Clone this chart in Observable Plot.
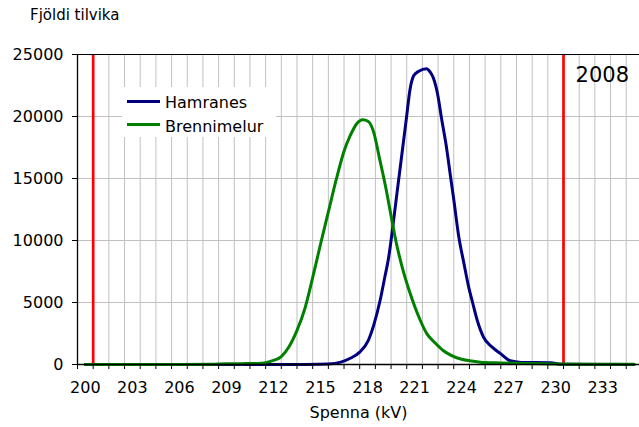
<!DOCTYPE html>
<html>
<head>
<meta charset="utf-8">
<script src="https://cdn.jsdelivr.net/npm/d3@7"></script>
<script src="https://cdn.jsdelivr.net/npm/@observablehq/plot@0.6"></script>
<style>
  html, body { margin: 0; padding: 0; background: #fff; }
  #wrap { position: relative; width: 639px; height: 427px; overflow: hidden; font-family: "DejaVu Sans", Verdana, sans-serif; color: #000; }
  #wrap svg { position: absolute; left: 0; top: 0; overflow: visible; }
  .lbl { position: absolute; line-height: 1; white-space: nowrap; }
  #legend { position: absolute; left: 122px; top: 87px; width: 154px; height: 50px; background: #fff; }
  .sw { position: absolute; left: 5px; width: 33px; height: 3px; }
  .lt { position: absolute; left: 43px; font-size: 16px; line-height: 1; white-space: nowrap; }
</style>
</head>
<body>
<div id="wrap"></div>
<script>
// ---- data ----
const seriesNames = ["Hamranes", "Brennimelur"];
const seriesColors = ["#000080", "#008000"];

const hamranesKv = [200, 212, 214, 215.5, 216.3, 216.9, 217.5, 218.05, 218.4, 218.8, 219.1, 219.33, 219.5, 219.67, 220, 220.3, 220.5, 220.7, 220.95, 221.27, 221.76, 222, 222.2, 222.5, 222.7, 223, 223.3, 223.5, 223.82, 224.14, 224.46, 224.7, 225, 225.4, 225.95, 226.5, 227.1, 227.8, 229.7, 230.3, 235];
const hamranesCount = [0, 0, 10, 40, 190, 500, 1000, 1950, 3200, 5160, 7040, 8500, 10000, 11700, 15050, 18050, 20080, 22100, 23300, 23650, 23850, 23570, 23100, 21600, 20000, 17800, 15100, 13300, 10300, 8200, 6200, 5000, 3550, 2200, 1400, 860, 300, 170, 140, 20, 0];

const brennimelurKv = [200, 205, 208, 209, 210, 211, 211.5, 212, 212.5, 213, 213.5, 214, 214.5, 215, 215.5, 216, 216.5, 216.9, 217.3, 217.7, 218.05, 218.4, 218.75, 219.15, 219.5, 219.8, 220.2, 220.7, 221.3, 221.8, 222.3, 222.8, 223.3, 224, 224.5, 225.2, 226.5, 228, 230, 232, 235];
const brennimelurCount = [0, 0, 20, 60, 70, 90, 150, 330, 640, 1450, 2750, 4500, 7000, 9700, 12300, 14900, 17200, 18470, 19400, 19730, 19600, 18700, 16700, 14350, 12000, 10000, 7900, 5800, 3750, 2450, 1750, 1150, 760, 420, 300, 190, 130, 80, 50, 30, 20];

const xTickLabels = [200, 203, 206, 209, 212, 215, 218, 221, 224, 227, 230, 233];
const yTicks = [0, 5000, 10000, 15000, 20000, 25000];
const limitLines = [200.5, 230.5];
const yearLabel = "2008";
const yTitle = "Fjöldi tilvika";
const xTitle = "Spenna (kV)";

// category boundaries (one kV per category, 200..235)
const boundaries = d3.range(199.5, 236, 1);

const hamranes = hamranesKv.map((kv, i) => ({kv, count: hamranesCount[i]}));
const brennimelur = brennimelurKv.map((kv, i) => ({kv, count: brennimelurCount[i]}));

const chart = Plot.plot({
  width: 639,
  height: 427,
  marginTop: 54,
  marginBottom: 63,
  marginLeft: 77,
  marginRight: 0,
  style: {fontFamily: "DejaVu Sans, Verdana, sans-serif", fontSize: "16px", color: "#000", background: "transparent", overflow: "visible"},
  x: {domain: [199.5, 235.5], range: [77, 641.4]},
  y: {domain: [0, 25000]},
  marks: [
    Plot.gridX({ticks: boundaries, stroke: "#c0c0c0", strokeOpacity: 1}),
    Plot.gridY({ticks: yTicks.slice(1, -1), stroke: "#c0c0c0", strokeOpacity: 1}),
    Plot.ruleX(limitLines, {stroke: "#ff0000", strokeWidth: 2.7}),
    Plot.line(hamranes, {x: "kv", y: "count", stroke: seriesColors[0], strokeWidth: 3, curve: "monotone-x"}),
    Plot.line(brennimelur, {x: "kv", y: "count", stroke: seriesColors[1], strokeWidth: 3, curve: "monotone-x"}),
    Plot.ruleY([25000], {stroke: "#000", strokeWidth: 1}),
    Plot.ruleX([199.5], {stroke: "#000", strokeWidth: 1.3}),
    Plot.ruleY([0], {stroke: "#000", strokeWidth: 1.5}),
    Plot.axisY({ticks: yTicks, tickSize: 5, tickPadding: 9, tickFormat: d3.format("d"), label: null, stroke: "#000"}),
    Plot.axisX({ticks: boundaries, tickSize: 5, tickFormat: () => "", label: null}),
    Plot.axisX({ticks: xTickLabels, tickSize: 0, tickPadding: 17, tickFormat: d3.format("d"), label: null})
  ]
});

const wrap = document.getElementById("wrap");
wrap.appendChild(chart);

function addLabel(text, css) {
  const d = document.createElement("div");
  d.className = "lbl";
  d.textContent = text;
  Object.assign(d.style, css);
  wrap.appendChild(d);
  return d;
}
addLabel(yTitle, {left: "30px", top: "8px", fontSize: "15px"});
addLabel(xTitle, {left: "358.5px", top: "405px", fontSize: "16px", transform: "translateX(-50%)"});
addLabel(yearLabel, {right: "10px", top: "65px", fontSize: "21px"});

const legend = document.createElement("div");
legend.id = "legend";
seriesNames.forEach((name, i) => {
  const sw = document.createElement("div");
  sw.className = "sw";
  sw.style.top = (12.5 + i * 23.3) + "px";
  sw.style.background = seriesColors[i];
  legend.appendChild(sw);
  const t = document.createElement("div");
  t.className = "lt";
  t.textContent = name;
  t.style.top = (7.8 + i * 24.2) + "px";
  legend.appendChild(t);
});
wrap.appendChild(legend);
</script>
</body>
</html>
